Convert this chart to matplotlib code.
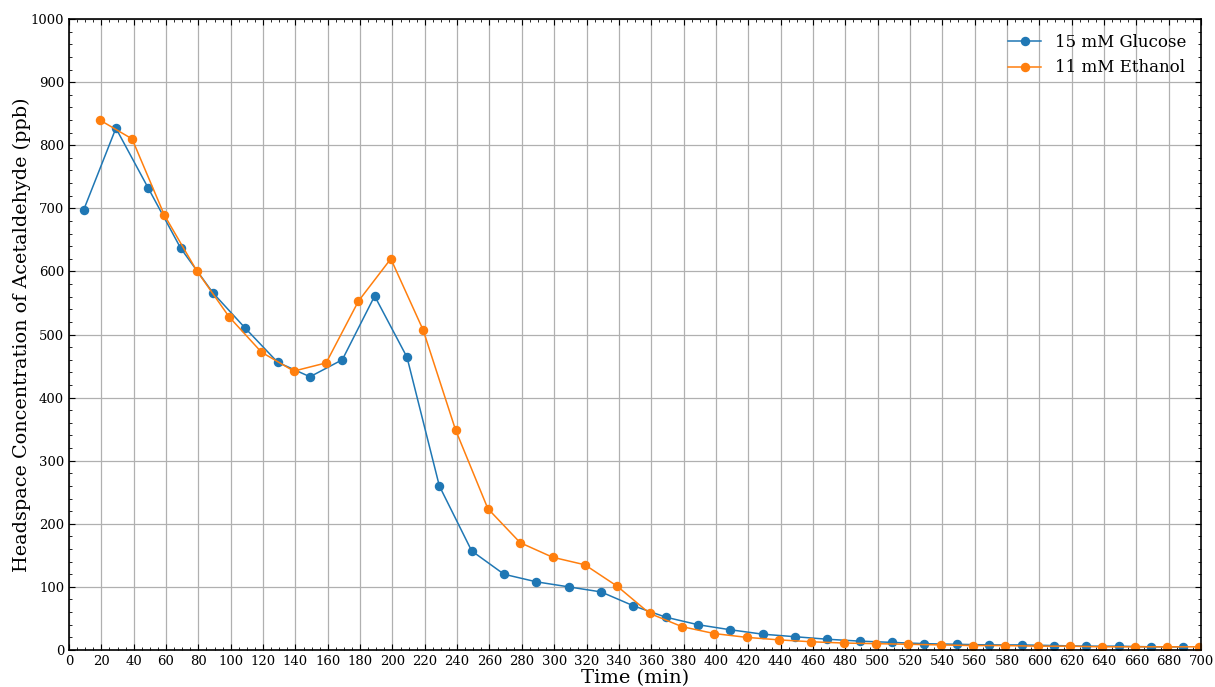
import numpy as np
import matplotlib.pyplot as plt
from matplotlib.ticker import MultipleLocator

plt.rcParams['font.family'] = 'DejaVu Serif'

# sampling times (min) for each run
t_glucose = np.arange(9, 700, 20)
t_ethanol = np.arange(19, 701, 20)

# headspace acetaldehyde (ppb)
glucose = [697, 827, 732, 637, 566, 510, 456, 433, 460, 561,
           464, 260, 157, 120, 108, 100, 92, 70, 52, 40,
           32, 25, 21, 17, 14, 12, 10, 9, 8, 8,
           7, 6, 6, 5, 5]
ethanol = [840, 810, 689, 601, 528, 472, 442, 455, 553, 620,
           507, 349, 224, 170, 147, 135, 101, 58, 37, 26,
           20, 16, 13, 11, 10, 9, 8, 7, 7, 6,
           6, 5, 5, 5, 5]

fig = plt.figure(figsize=(12.15, 6.87), dpi=100)
ax = fig.add_axes([0.0568, 0.0539, 0.9317, 0.9184])

ax.plot(t_glucose, glucose, marker='o', markersize=5.8, linewidth=1.1,
        color='#1f77b4', label='15 mM Glucose')
ax.plot(t_ethanol, ethanol, marker='o', markersize=5.8, linewidth=1.1,
        color='#ff7f0e', label='11 mM Ethanol')

ax.set_xlim(0, 700)
ax.set_ylim(0, 1000)
ax.xaxis.set_major_locator(MultipleLocator(20))
ax.xaxis.set_minor_locator(MultipleLocator(5))
ax.yaxis.set_major_locator(MultipleLocator(100))
ax.yaxis.set_minor_locator(MultipleLocator(20))
ax.tick_params(which='both', direction='in', top=True, right=True, labelsize=9.5)
ax.tick_params(which='major', length=4)
ax.tick_params(which='minor', length=2)
for s in ax.spines.values():
    s.set_linewidth(1.2)

ax.grid(True, which='major', color='#b0b0b0', linewidth=0.9)
ax.set_xlabel('Time (min)', fontsize=14, labelpad=1)
ax.set_ylabel('Headspace Concentration of Acetaldehyde (ppb)', fontsize=13.8, labelpad=0)
ax.legend(frameon=False, fontsize=12, loc='upper right')

fig.savefig('out.png', dpi=100)
